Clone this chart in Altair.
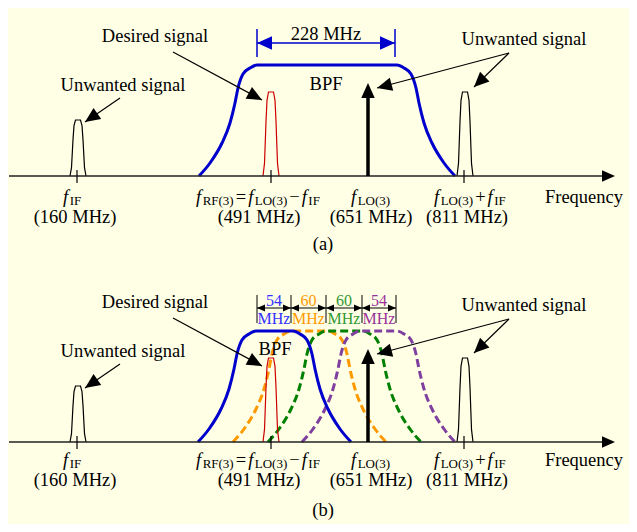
import math
import altair as alt
import pandas as pd

# ---------------- values ----------------
BG = "#FFFFE6"
FONT = "Liberation Serif"
BLUE = "#0000CC"

panel_shift = [0, -266]      # baseline of panel (a) and (b)
label_shift = [0, 3]         # (b) labels sit slightly closer to the axis
panel_tag = ["(a)", "(b)"]

axis_x_start = 9
axis_x_end = 604
axis_x_tip = 615

# narrow signal pulses
pulse_x = [78, 271, 465]
pulse_h = [56, 84, 84]
pulse_col = ["#000000", "#CC0000", "#000000"]
pulse_dx = [-8, -6.5, -5, -4, -2.5, 2.5, 4, 5, 6.5, 8]
pulse_frac = [0, 0.15, 0.65, 0.9, 1, 1, 0.9, 0.65, 0.15, 0]
tick_x = [77, 271, 464]

# LO carrier arrow
lo_x = 368
lo_tip = 93

# BPF skirt profile: distance from the foot, height above baseline
edge_dx = [0, 11, 23, 31, 36, 39, 44, 51, 58]
edge_h = [0, 13, 33, 53, 73, 88, 102, 108, 111]

bpf_a_start, bpf_a_flat = 199, 140
bpf_b_start = [198, 233, 268, 302]
bpf_b_flat = 37
bpf_b_color = [BLUE, "#FF9900", "#008000", "#7F3F9F"]
bpf_b_dashed = [False, True, True, True]

# dimension markers
dim_a_x = [257, 395]
dim_a_text = "228 MHz"
dim_b_x = [257, 291, 326, 362, 396]
dim_b_num = ["54", "60", "60", "54"]
dim_b_col = ["#3333FF", "#FF9900", "#339933", "#993399"]

# annotations
ann_text = ["Desired signal", "Unwanted signal", "Unwanted signal"]
ann_x = [155, 123, 524]
ann_y = [134, 85, 131]
arrow_from = [(173, 124), (120, 78), (509, 123), (509, 123)]
arrow_tip = [(262, 76), (85, 54), (377, 88), (474, 89)]

bpf_label_x = [326, 275]
bpf_label_y = [86, 87]

freq_labels = ["(160 MHz)", "(491 MHz)", "(651 MHz)", "(811 MHz)"]
freq_label_x = [75, 259, 371, 467]

sym_start = [63, 196, 351, 434]
sym_pieces = [
    [("f", "f"), ("IF", "s")],
    [("f", "f"), ("RF(3)", "s"), ("=", "o"), ("f", "f"), ("LO(3)", "s"),
     ("\u2212", "o"), ("f", "f"), ("IF", "s")],
    [("f", "f"), ("LO(3)", "s")],
    [("f", "f"), ("LO(3)", "s"), ("+", "o"), ("f", "f"), ("IF", "s")],
]
FS_MAIN = 18.5
FS_SUB = 13
FS_DIM = 16

# ---------------- build tables ----------------
CW = {"f": 0.278, "R": 0.667, "F": 0.556, "(": 0.333, ")": 0.333, "3": 0.5,
      "L": 0.611, "O": 0.722, "I": 0.333, "=": 0.564, "\u2212": 0.564, "+": 0.564}

bpf_solid, bpf_dash, pulses = [], [], []
rules, heads = [], []
txt_c, txt_l, txt_i = [], [], []


def bpf_points(start, flat):
    pts = [(start + d, h) for d, h in zip(edge_dx, edge_h)]
    end = start + edge_dx[-1] * 2 + flat
    pts += [(end - d, h) for d, h in reversed(list(zip(edge_dx, edge_h)))]
    return pts


def head(x, y, ang, L, col):
    heads.append(dict(x=x, y=y, ang=ang % 360, sz=(2 * L) ** 2, col=col))


def rule(x, y, x2, y2, col="#000000", sw=1.2):
    rules.append(dict(x=x, y=y, x2=x2, y2=y2, col=col, sw=sw))


for p, s in enumerate(panel_shift):
    ls = s + label_shift[p]
    # filters
    if p == 0:
        for i, (x, h) in enumerate(bpf_points(bpf_a_start, bpf_a_flat)):
            bpf_solid.append(dict(x=x, y=s + h, g="a", o=i, col=BLUE))
    else:
        for k, st in enumerate(bpf_b_start):
            for i, (x, h) in enumerate(bpf_points(st, bpf_b_flat)):
                row = dict(x=x, y=s + h, g=f"b{k}", o=i, col=bpf_b_color[k])
                (bpf_dash if bpf_b_dashed[k] else bpf_solid).append(row)
    # pulses
    for k, (cx, ph) in enumerate(zip(pulse_x, pulse_h)):
        for i, (d, fr) in enumerate(zip(pulse_dx, pulse_frac)):
            pulses.append(dict(x=cx + d, y=s + ph * fr, g=f"{p}{k}", o=i, col=pulse_col[k]))
    # axis
    rule(axis_x_start, s, axis_x_end, s, "#222222", 1.5)
    head(axis_x_tip, s, 90, 13, "#000000")
    for tx in tick_x:
        rule(tx, s + 6, tx, s - 7, "#000000", 1.2)
    # LO arrow
    rule(lo_x, s, lo_x, s + lo_tip - 14, "#000000", 3.5)
    head(lo_x, s + lo_tip, 0, 15, "#000000")
    # annotation arrows
    for (fx, fy), (tx, ty) in zip(arrow_from, arrow_tip):
        rule(fx, s + fy, tx, s + ty, "#000000", 1.2)
        ang = math.degrees(math.atan2(tx - fx, ty - fy))
        head(tx, s + ty, ang, 15, "#000000")
    for t, x, y in zip(ann_text, ann_x, ann_y):
        txt_c.append(dict(x=x, y=s + y, t=t, fs=FS_MAIN, col="#000000"))
    txt_c.append(dict(x=bpf_label_x[p], y=s + bpf_label_y[p], t="BPF", fs=FS_MAIN, col="#000000"))
    # dimension markers
    if p == 0:
        for x in dim_a_x:
            rule(x, s + 119, x, s + 147, BLUE, 1.5)
        rule(dim_a_x[0], s + 133, dim_a_x[1], s + 133, BLUE, 1.5)
        head(dim_a_x[0], s + 133, 270, 15, BLUE)
        head(dim_a_x[1], s + 133, 90, 15, BLUE)
        txt_c.append(dict(x=sum(dim_a_x) / 2, y=s + 136, t=dim_a_text, fs=FS_MAIN, col="#000000"))
    else:
        for x in dim_b_x:
            rule(x, s + 119, x, s + 147, "#000000", 1)
        rule(dim_b_x[0], s + 134, dim_b_x[-1], s + 134, "#000000", 1)
        for k in range(len(dim_b_num)):
            a, b = dim_b_x[k], dim_b_x[k + 1]
            head(a, s + 134, 270, 8, "#000000")
            head(b, s + 134, 90, 8, "#000000")
            txt_c.append(dict(x=(a + b) / 2, y=s + 136, t=dim_b_num[k], fs=FS_DIM, col=dim_b_col[k]))
            txt_c.append(dict(x=(a + b) / 2, y=s + 118, t="MHz", fs=FS_DIM, col=dim_b_col[k]))
    # frequency labels
    for t, x in zip(freq_labels, freq_label_x):
        txt_c.append(dict(x=x, y=ls - 47, t=t, fs=FS_MAIN, col="#000000"))
    txt_c.append(dict(x=584, y=ls - 27, t="Frequency", fs=FS_MAIN, col="#000000"))
    txt_c.append(dict(x=323, y=s - 74, t=panel_tag[p], fs=FS_MAIN, col="#000000"))
    for x0, pieces in zip(sym_start, sym_pieces):
        x = x0
        for t, kind in pieces:
            if kind == "f":
                txt_i.append(dict(x=x, y=ls - 27, t=t, fs=FS_MAIN, col="#000000"))
                x += CW["f"] * FS_MAIN + 1.5
            elif kind == "s":
                txt_l.append(dict(x=x, y=ls - 29, t=t, fs=FS_SUB, col="#000000"))
                x += sum(CW[c] for c in t) * FS_SUB
            else:
                x += 2
                txt_l.append(dict(x=x, y=ls - 27, t=t, fs=FS_MAIN, col="#000000"))
                x += CW[t] * FS_MAIN + 2

# ---------------- chart ----------------
xs = alt.Scale(domain=[8, 629], nice=False, zero=False)
ys = alt.Scale(domain=[-348, 168], nice=False, zero=False)
X = alt.X("x:Q", scale=xs, axis=None)
Y = alt.Y("y:Q", scale=ys, axis=None)
COL = alt.Color("col:N", scale=None, legend=None)

l_dash = alt.Chart(pd.DataFrame(bpf_dash)).mark_line(
    strokeWidth=3, strokeDash=[8, 4], interpolate="monotone"
).encode(x=X, y=Y, detail="g:N", order="o:Q", color=COL)

l_solid = alt.Chart(pd.DataFrame(bpf_solid)).mark_line(
    strokeWidth=3, interpolate="monotone"
).encode(x=X, y=Y, detail="g:N", order="o:Q", color=COL)

l_pulse = alt.Chart(pd.DataFrame(pulses)).mark_line(strokeWidth=1.2).encode(
    x=X, y=Y, detail="g:N", order="o:Q", color=COL)

l_rules = alt.Chart(pd.DataFrame(rules)).mark_rule().encode(
    x=X, y=Y, x2="x2:Q", y2="y2:Q", color=COL,
    strokeWidth=alt.StrokeWidth("sw:Q", scale=None, legend=None))

l_heads = alt.Chart(pd.DataFrame(heads)).mark_point(
    shape="M0,0L0.45,1L-0.45,1Z", filled=True, opacity=1, strokeWidth=0
).encode(x=X, y=Y, color=COL,
         size=alt.Size("sz:Q", scale=None, legend=None),
         angle=alt.Angle("ang:Q", scale=None))


def text_layer(rows, align, style):
    return alt.Chart(pd.DataFrame(rows)).mark_text(
        align=align, baseline="alphabetic", font=FONT, fontStyle=style
    ).encode(x=X, y=Y, text="t:N", color=COL,
             size=alt.Size("fs:Q", scale=None, legend=None))


chart = alt.layer(
    l_dash, l_solid, l_pulse, l_rules, l_heads,
    text_layer(txt_c, "center", "normal"),
    text_layer(txt_l, "left", "normal"),
    text_layer(txt_i, "left", "italic"),
).properties(
    width=621, height=516, background=BG,
    autosize=alt.AutoSizeParams(type="none"), padding=0,
).configure_view(strokeWidth=0)

chart.save("out.html", embed_options={"renderer": "svg", "actions": False})
